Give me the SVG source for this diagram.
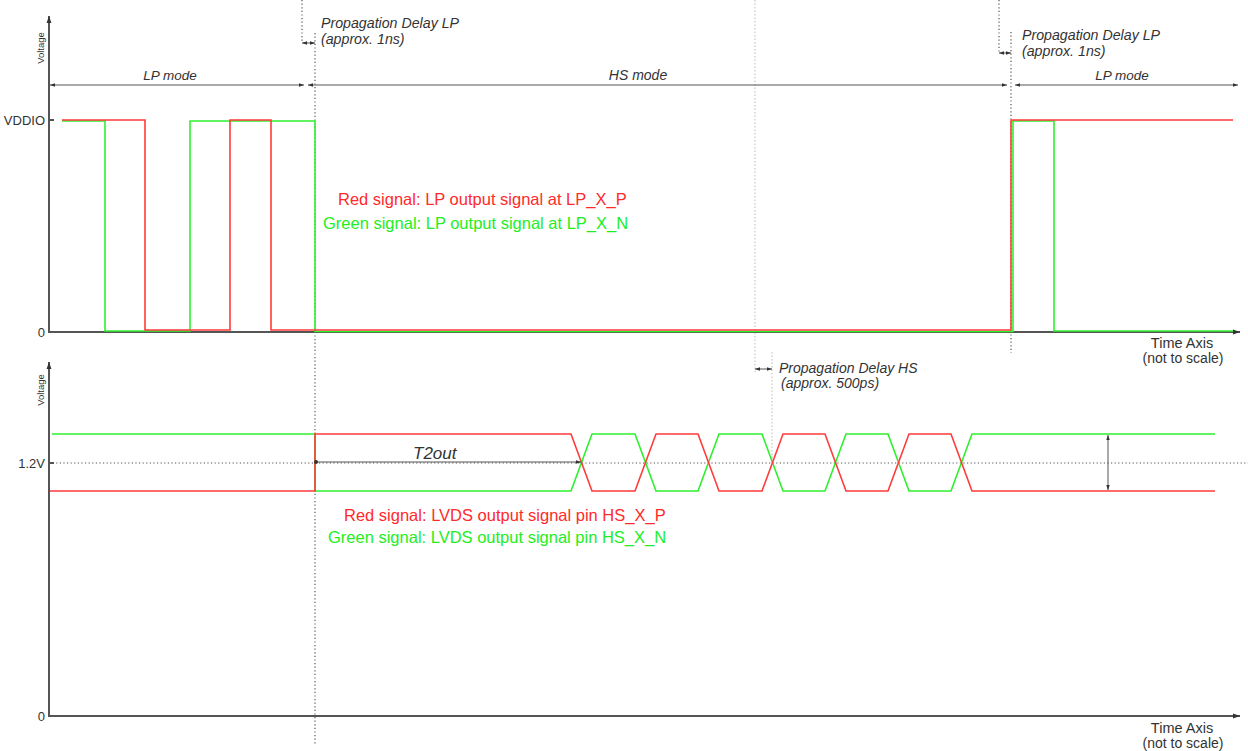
<svg xmlns="http://www.w3.org/2000/svg" width="1248" height="751" viewBox="0 0 1248 751">
<defs>
<marker id="ah" viewBox="0 0 10 10" refX="10" refY="5" markerWidth="7" markerHeight="7" orient="auto-start-reverse" markerUnits="userSpaceOnUse"><path d="M0,1.5 L10,5 L0,8.5 z" fill="#333"/></marker>
<marker id="ahs" viewBox="0 0 10 10" refX="10" refY="5" markerWidth="5" markerHeight="5" orient="auto-start-reverse" markerUnits="userSpaceOnUse"><path d="M0,1.5 L10,5 L0,8.5 z" fill="#333"/></marker>
</defs>
<style>
text{font-family:"Liberation Sans",Arial,sans-serif;fill:#333}
.it{font-style:italic}
.axis{stroke:#555;stroke-width:2;fill:none}
.dim{stroke:#555;stroke-width:1;fill:none}
.dot{stroke:#555;stroke-width:1.2;stroke-dasharray:1.2,2.4;fill:none}
.ldot{stroke:#bbb;stroke-width:1;stroke-dasharray:1.5,2;fill:none}
.red{stroke:#ff3b3b;stroke-width:1.6;fill:none}
.grn{stroke:#2ef02e;stroke-width:1.6;fill:none}
.rt{fill:#ff2a2a}
.gt{fill:#22ee22}
</style>
<rect width="1248" height="751" fill="#fff"/>
<g id="guides">
<line class="dot" x1="302" y1="0" x2="302" y2="43"/>
<line class="dot" x1="315" y1="33" x2="315" y2="745"/>
<line class="dot" x1="999" y1="0" x2="999" y2="53"/>
<line class="dot" x1="1011" y1="32" x2="1011" y2="353"/>
<line class="ldot" x1="755" y1="0" x2="755" y2="372"/>
<line class="ldot" x1="772" y1="352" x2="772" y2="462"/>
<line class="dot" x1="49" y1="463" x2="1248" y2="463"/>
</g>
<g id="top-chart">
<line class="axis" x1="49" y1="332" x2="49" y2="16" marker-end="url(#ah)"/>
<line class="axis" x1="48" y1="332" x2="1240" y2="332" marker-end="url(#ah)"/>
<line class="axis" x1="49" y1="120" x2="54" y2="120"/>
<text x="40" y="51.5" font-size="9.5" transform="rotate(-90 40 48)" text-anchor="middle" fill="#666">Voltage</text>
<text x="45" y="125" font-size="13" text-anchor="end">VDDIO</text>
<text x="45" y="337" font-size="13" text-anchor="end">0</text>
<text x="1182" y="348" font-size="14.5" text-anchor="middle">Time Axis</text>
<text x="1183" y="363" font-size="14" text-anchor="middle">(not to scale)</text>
</g>
<g id="mode-arrows">
<line class="dim" x1="50" y1="85" x2="304" y2="85" marker-start="url(#ahs)" marker-end="url(#ahs)"/>
<line class="dim" x1="308" y1="85" x2="1007" y2="85" marker-start="url(#ahs)" marker-end="url(#ahs)"/>
<line class="dim" x1="1015" y1="85" x2="1238" y2="85" marker-start="url(#ahs)" marker-end="url(#ahs)"/>
<line class="dim" x1="302" y1="43" x2="315" y2="43" marker-start="url(#ahs)" marker-end="url(#ahs)"/>
<line class="dim" x1="999" y1="53" x2="1011" y2="53" marker-start="url(#ahs)" marker-end="url(#ahs)"/>
<line class="dim" x1="755" y1="369" x2="772" y2="369" marker-start="url(#ahs)" marker-end="url(#ahs)"/>
<text class="it" x="170" y="80" font-size="13.5" text-anchor="middle">LP mode</text>
<text class="it" x="638" y="80" font-size="14" text-anchor="middle">HS mode</text>
<text class="it" x="1122" y="80" font-size="13.5" text-anchor="middle">LP mode</text>
<text class="it" x="321" y="28" font-size="14.2">Propagation Delay LP</text>
<text class="it" x="321" y="44" font-size="14.2">(approx. 1ns)</text>
<text class="it" x="1022" y="40" font-size="14.2">Propagation Delay LP</text>
<text class="it" x="1022" y="56" font-size="14.2">(approx. 1ns)</text>
<text class="it" x="779" y="373" font-size="14">Propagation Delay HS</text>
<text class="it" x="781" y="388" font-size="14">(approx. 500ps)</text>
</g>
<g id="lp-signals">
<polyline class="grn" points="62,121 105,121 105,331 190,331 190,121 315,121 315,331.5 1013,331.5 1013,121 1054,121 1054,331 1233,331"/>
<polyline class="red" points="62,120 145,120 145,330 230,330 230,120 271,120 271,330 1011,330 1011,120 1233,120"/>
<text class="rt" x="338" y="205" font-size="16.5">Red signal: LP output signal at LP_X_P</text>
<text class="gt" x="323" y="229" font-size="16.5">Green signal: LP output signal at LP_X_N</text>
</g>
<g id="bottom-chart">
<line class="axis" x1="49" y1="716" x2="49" y2="362" marker-end="url(#ah)"/>
<line class="axis" x1="48" y1="716" x2="1240" y2="716" marker-end="url(#ah)"/>
<line class="axis" x1="49" y1="463" x2="54" y2="463"/>
<text x="40" y="393.5" font-size="9.5" transform="rotate(-90 40 390)" text-anchor="middle" fill="#666">Voltage</text>
<text x="45" y="468" font-size="13" text-anchor="end">1.2V</text>
<text x="45" y="721" font-size="13" text-anchor="end">0</text>
<text x="1182" y="733" font-size="14.5" text-anchor="middle">Time Axis</text>
<text x="1183" y="748" font-size="14" text-anchor="middle">(not to scale)</text>
</g>
<g id="hs-signals">
<polyline class="grn" points="52,434 315,434 315,491 571,491 592,434 635,434 656,491 698,491 719,434 762,434 783,491 825,491 846,434 888,434 909,491 951,491 972,434 1215,434"/>
<polyline class="red" points="50,491 315,491 315,434 571,434 592,491 635,491 656,434 698,434 719,491 762,491 783,434 825,434 846,491 888,491 909,434 951,434 972,491 1215,491"/>
<line class="dim" x1="316" y1="462" x2="581" y2="462" stroke-width="1.2" marker-end="url(#ahs)"/>
<circle cx="316" cy="462" r="2" fill="#333"/>
<text class="it" x="413" y="459" font-size="17">T2out</text>
<line class="dim" x1="1108" y1="435" x2="1108" y2="490" stroke-width="1.5" marker-start="url(#ahs)" marker-end="url(#ahs)"/>
<text class="rt" x="344" y="521" font-size="16.5">Red signal: LVDS output signal pin HS_X_P</text>
<text class="gt" x="328" y="543" font-size="16.5">Green signal: LVDS output signal pin HS_X_N</text>
</g>
</svg>
